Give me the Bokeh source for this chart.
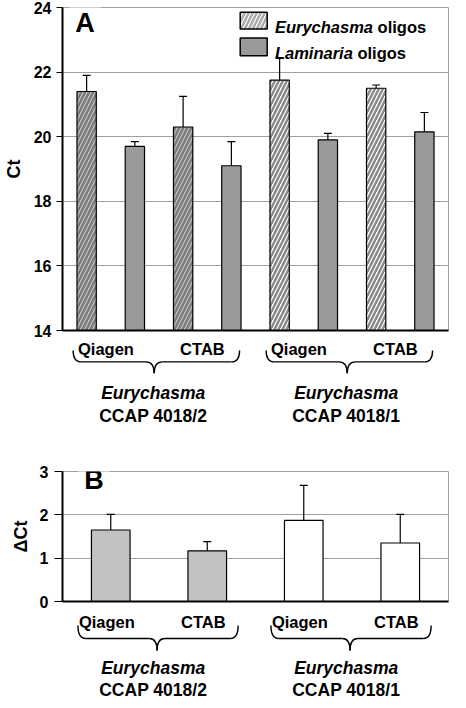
from bokeh.plotting import figure
from bokeh.models import (Range1d, ColumnDataSource, Whisker, TeeHead, Label,
                          BoxAnnotation, FixedTicker)
from bokeh.layouts import column
from bokeh.embed import file_html
from bokeh.resources import INLINE
from bokeh.core.properties import value

# ---------------- data ----------------
methods = ["Qiagen", "CTAB", "Qiagen", "CTAB"]
sample_strain = [0, 0, 1, 1]
genus = ["Eurychasma", "Eurychasma"]
strains = ["CCAP 4018/2", "CCAP 4018/1"]
series_names = ["Eurychasma", "Laminaria"]

eury_ct = [21.4, 20.3, 21.75, 21.5]
eury_err = [0.5, 0.95, 0.7, 0.1]
lam_ct = [19.7, 19.1, 19.9, 20.15]
lam_err = [0.15, 0.75, 0.2, 0.6]

delta_ct = [1.65, 1.17, 1.87, 1.35]
delta_err = [0.36, 0.21, 0.81, 0.66]

ct_ticks = [14, 16, 18, 20, 22, 24]
dct_ticks = [0, 1, 2, 3]

# ---------------- styles ----------------
FONT = "Liberation Sans"
W = 450
eury_fill = ["#c6c6c6", "#ffffff"]
eury_hatch = ["#7a7a7a", "#8c8c8c"]
lam_fill = "#9a9a9a"
delta_fill = ["#c2c2c2", "#ffffff"]
GRID = "#a0a0a0"


def style_axes(p, ticks, label, tick_out, standoff, label_standoff):
    p.yaxis.ticker = FixedTicker(ticks=ticks)
    p.yaxis.axis_label = label
    p.yaxis.axis_label_text_font = FONT
    p.yaxis.axis_label_text_font_size = "18px"
    p.yaxis.axis_label_text_font_style = "bold"
    p.yaxis.axis_label_text_color = "black"
    p.yaxis.axis_label_standoff = label_standoff
    p.yaxis.major_label_text_font = FONT
    p.yaxis.major_label_text_font_size = "16px"
    p.yaxis.major_label_text_font_style = "bold"
    p.yaxis.major_label_text_color = "black"
    p.yaxis.major_label_standoff = standoff
    p.yaxis.major_tick_out = tick_out
    p.yaxis.major_tick_in = 0
    p.yaxis.minor_tick_line_color = None
    p.yaxis.axis_line_width = 2
    p.yaxis.axis_line_color = "black"
    p.yaxis.major_tick_line_color = "black"
    p.xaxis.ticker = FixedTicker(ticks=[])
    p.xaxis.major_tick_line_color = None
    p.xaxis.minor_tick_line_color = None
    p.xaxis.major_label_standoff = 0
    p.xaxis.major_tick_out = 0
    p.xaxis.axis_line_width = 2
    p.xaxis.axis_line_color = "black"
    p.xgrid.grid_line_color = None
    p.ygrid.grid_line_color = GRID
    p.ygrid.grid_line_width = 1
    p.ygrid.ticker = FixedTicker(ticks=ticks)
    p.outline_line_color = GRID
    p.outline_line_width = 1
    p.background_fill_color = "white"
    p.border_fill_color = "white"


def label_fig(h, x_range, left):
    p = figure(width=W, height=h, x_range=x_range, y_range=Range1d(h, 0),
               output_backend="svg", toolbar_location=None,
               min_border_left=left, min_border_right=2,
               min_border_top=0, min_border_bottom=0)
    p.axis.visible = False
    p.grid.visible = False
    p.outline_line_color = None
    p.border_fill_color = "white"
    return p


def draw_braces(p, centers, left_off, right_off, tip_off, hw, y_top, y_mid, y_tip):
    x0s, y0s, x1s, y1s, cxs, cys = [], [], [], [], [], []
    sx0, sx1, sy = [], [], []
    for c in centers:
        L, R, T = c - left_off, c + right_off, c + tip_off
        x0s.append(L); y0s.append(y_top); x1s.append(L + hw); y1s.append(y_mid); cxs.append(L); cys.append(y_mid)
        x0s.append(T - hw); y0s.append(y_mid); x1s.append(T); y1s.append(y_tip); cxs.append(T); cys.append(y_mid)
        x0s.append(T); y0s.append(y_tip); x1s.append(T + hw); y1s.append(y_mid); cxs.append(T); cys.append(y_mid)
        x0s.append(R - hw); y0s.append(y_mid); x1s.append(R); y1s.append(y_top); cxs.append(R); cys.append(y_mid)
        sx0 += [L + hw, T + hw]; sx1 += [T - hw, R - hw]; sy += [y_mid, y_mid]
    p.quadratic(x0=x0s, y0=y0s, x1=x1s, y1=y1s, cx=cxs, cy=cys,
                line_color="black", line_width=1.4)
    p.segment(x0=sx0, y0=sy, x1=sx1, y1=sy, line_color="black", line_width=1.4)


def draw_texts(p, xs, y, texts, size, style):
    p.text(x=xs, y=[y] * len(xs), text=texts,
           text_font=value(FONT), text_font_size=size, text_font_style=style,
           text_color="black", text_align="center", text_baseline="middle")


n = len(methods)

# ---------------- panel A ----------------
A_TOP, A_FRAME, A_BOT = 7, 323, 9
A_H = A_TOP + A_FRAME + A_BOT
pA = figure(width=W, height=A_H, x_range=Range1d(0, 2 * n),
            y_range=Range1d(ct_ticks[0], ct_ticks[-1]),
            output_backend="svg", toolbar_location=None,
            min_border_left=59, min_border_right=2,
            min_border_top=A_TOP, min_border_bottom=A_BOT)
style_axes(pA, ct_ticks, "Ct", 6, 5, 7)

xe = [2 * i + 0.5 for i in range(n)]
xl = [2 * i + 1.5 for i in range(n)]
srcE = ColumnDataSource(dict(
    x=xe, top=eury_ct, upper=[v + e for v, e in zip(eury_ct, eury_err)],
    fill=[eury_fill[s] for s in sample_strain],
    hatch=[eury_hatch[s] for s in sample_strain]))
srcL = ColumnDataSource(dict(
    x=xl, top=lam_ct, upper=[v + e for v, e in zip(lam_ct, lam_err)]))

pA.vbar(x="x", top="top", bottom=ct_ticks[0], width=0.4, source=srcE,
        fill_color="fill", hatch_pattern="/", hatch_color="hatch",
        hatch_scale=8, hatch_weight=2.5, line_color="black", line_width=1.2)
pA.vbar(x="x", top="top", bottom=ct_ticks[0], width=0.4, source=srcL,
        fill_color=lam_fill, line_color="black", line_width=1.2)
for src in (srcE, srcL):
    pA.add_layout(Whisker(source=src, base="x", upper="upper", lower="top",
                          line_color="black", line_width=1.2,
                          upper_head=TeeHead(size=8, line_color="black", line_width=1.2),
                          lower_head=None, level="annotation"))

pA.add_layout(Label(x=6.7, y=A_FRAME - 15.4, x_units="screen", y_units="screen",
                    text="A", text_font=FONT, text_font_size="27px",
                    text_font_style="bold", text_color="black",
                    text_baseline="alphabetic",
                    background_fill_color="white", padding=6))

# legend (manual, mixed italic / upright text); offsets measured from frame top
leg_x0, leg_x1 = 177.7, 204.7
pA.add_layout(BoxAnnotation(left=leg_x0, right=leg_x1, bottom=A_FRAME - 21.6, top=A_FRAME - 4.8,
                            left_units="screen", right_units="screen",
                            top_units="screen", bottom_units="screen",
                            fill_color="white", fill_alpha=1,
                            hatch_pattern="/", hatch_color="#aaaaaa", hatch_scale=8,
                            hatch_weight=2.5, line_color="black", line_width=1.5,
                            line_alpha=1, level="annotation"))
pA.add_layout(BoxAnnotation(left=leg_x0, right=leg_x1, bottom=A_FRAME - 48.2, top=A_FRAME - 30.5,
                            left_units="screen", right_units="screen",
                            top_units="screen", bottom_units="screen",
                            fill_color=lam_fill, fill_alpha=1,
                            line_color="black", line_width=1.5, line_alpha=1,
                            level="annotation"))
LEG_FS = 16.5
em_w = {"Eurychasma": 5.947, "Laminaria": 4.724}
for name, yb in zip(series_names, [A_FRAME - 19.3, A_FRAME - 45.6]):
    pA.add_layout(Label(x=212.4, y=yb, x_units="screen", y_units="screen",
                        text=name, text_font=FONT, text_font_size=f"{LEG_FS}px",
                        text_font_style="bold italic", text_color="black",
                        text_baseline="alphabetic"))
    pA.add_layout(Label(x=212.4 + (em_w[name] + 0.278) * LEG_FS, y=yb,
                        x_units="screen", y_units="screen",
                        text="oligos", text_font=FONT, text_font_size=f"{LEG_FS}px",
                        text_font_style="bold", text_color="black",
                        text_baseline="alphabetic"))

# ---------------- panel A categories ----------------
AL_H = 116
pAL = label_fig(AL_H, pA.x_range, 59)
pair_c = [2 * i + 1 for i in range(n)]
draw_texts(pAL, [c - 0.1 for c in pair_c], 9.4, methods, "16.5px", "bold")
gA = [sum(pair_c[i] for i in range(n) if sample_strain[i] == s) / 2 for s in range(len(strains))]
draw_braces(pAL, gA, 1.78, 1.67, -0.1, 0.17, 11, 22.4, 33.7)
draw_texts(pAL, [c - 0.12 for c in gA], 53, genus, "17.5px", "bold italic")
draw_texts(pAL, [c - 0.12 for c in gA], 76, strains, "17.5px", "bold")

# ---------------- panel B ----------------
B_TOP, B_FRAME, B_BOT = 16, 130, 9
B_H = B_TOP + B_FRAME + B_BOT
pB = figure(width=W, height=B_H, x_range=Range1d(0, n),
            y_range=Range1d(dct_ticks[0], dct_ticks[-1]),
            output_backend="svg", toolbar_location=None,
            min_border_left=51, min_border_right=2,
            min_border_top=B_TOP, min_border_bottom=B_BOT)
style_axes(pB, dct_ticks, "ΔCt", 8, 6, 6)
xb = [i + 0.5 for i in range(n)]
srcB = ColumnDataSource(dict(
    x=xb, top=delta_ct, upper=[v + e for v, e in zip(delta_ct, delta_err)],
    fill=[delta_fill[s] for s in sample_strain]))
pB.vbar(x="x", top="top", bottom=dct_ticks[0], width=0.4, source=srcB,
        fill_color="fill", line_color="black", line_width=1.2)
pB.add_layout(Whisker(source=srcB, base="x", upper="upper", lower="top",
                      line_color="black", line_width=1.2,
                      upper_head=TeeHead(size=8, line_color="black", line_width=1.2),
                      lower_head=None, level="annotation"))
pB.add_layout(Label(x=15.7, y=B_FRAME - 8.2, x_units="screen", y_units="screen",
                    text="B", text_font=FONT, text_font_size="27px",
                    text_font_style="bold", text_color="black",
                    text_baseline="alphabetic",
                    background_fill_color="white", padding=6))

# ---------------- panel B categories ----------------
BL_H = 90
pBL = label_fig(BL_H, pB.x_range, 51)
draw_texts(pBL, [c - 0.04 for c in xb], 11, methods, "16.5px", "bold")
gB = [sum(xb[i] for i in range(n) if sample_strain[i] == s) / 2 for s in range(len(strains))]
draw_braces(pBL, gB, 0.84, 0.82, -0.02, 0.08, 15, 28, 40)
draw_texts(pBL, [c - 0.06 for c in gB], 57, genus, "17.5px", "bold italic")
draw_texts(pBL, [c - 0.06 for c in gB], 79.5, strains, "17.5px", "bold")

layout = column(pA, pAL, pB, pBL, spacing=0)
open("out.html", "w").write(file_html(layout, INLINE))
